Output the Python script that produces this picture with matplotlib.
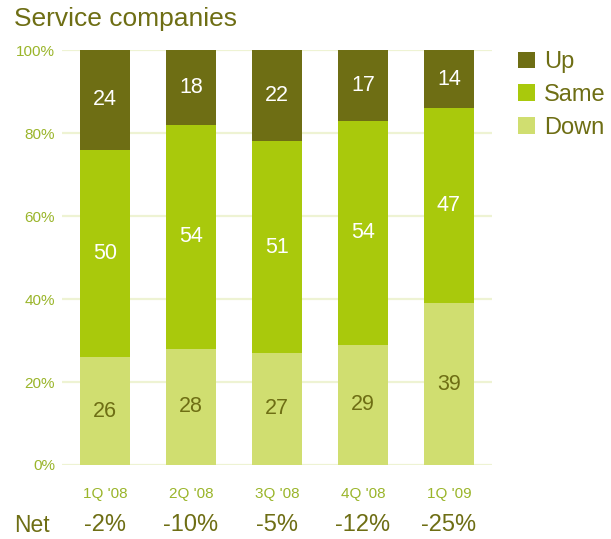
import matplotlib
matplotlib.use("Agg")
import matplotlib.pyplot as plt
import numpy as np

plt.rcParams['font.family'] = ['Liberation Sans', 'DejaVu Sans']

quarters = ["1Q '08", "2Q '08", "3Q '08", "4Q '08", "1Q '09"]
down = [26, 28, 27, 29, 39]
same = [50, 54, 51, 54, 47]
up = [24, 18, 22, 17, 14]
net = ["-2%", "-10%", "-5%", "-12%", "-25%"]

c_up = "#6e6e14"
c_same = "#a9c90c"
c_down = "#d0de70"
c_text = "#6e6e14"
c_tick = "#9ab52a"
c_grid = "#eef3d3"

fig = plt.figure(figsize=(6.11, 5.39), dpi=100)
ax = fig.add_axes([0.1015, 0.1373, 0.7035, 0.7699])

x = np.arange(len(quarters))
w = 0.58
down_a = np.array(down)
same_a = np.array(same)
up_a = np.array(up)

b1 = ax.bar(x, down_a, w, color=c_down, label="Down", zorder=2)
b2 = ax.bar(x, same_a, w, bottom=down_a, color=c_same, label="Same", zorder=2)
b3 = ax.bar(x, up_a, w, bottom=down_a + same_a, color=c_up, label="Up", zorder=2)

for i in range(len(x)):
    ax.text(x[i], down_a[i] / 2, str(down[i]), ha="center", va="center",
            color=c_text, fontsize=15.5)
    ax.text(x[i], down_a[i] + same_a[i] / 2, str(same[i]), ha="center",
            va="center", color="white", fontsize=15.5)
    ax.text(x[i], down_a[i] + same_a[i] + up_a[i] / 2, str(up[i]),
            ha="center", va="center", color="white", fontsize=15.5)

ax.set_xlim(-0.5, 4.5)
ax.set_ylim(0, 100)
ax.set_yticks([0, 20, 40, 60, 80, 100])
ax.set_yticklabels(["0%", "20%", "40%", "60%", "80%", "100%"])
ax.yaxis.grid(True, color=c_grid, linewidth=1.6, zorder=0)
ax.set_axisbelow(True)
ax.tick_params(axis="y", length=0, pad=5, labelcolor=c_tick, labelsize=11)
ax.set_xticks(x)
ax.set_xticklabels(quarters)
ax.tick_params(axis="x", length=0, pad=16, labelcolor=c_tick, labelsize=11)
for s in ax.spines.values():
    s.set_visible(False)

# Net balance row under the category labels
fig.text(14 / 611, 1 - 525 / 539, "Net", ha="left", va="center",
         color=c_text, fontsize=16.5)
for i in range(len(x)):
    xd = ax.transData.transform((x[i], 0))[0] / fig.bbox.width
    fig.text(xd, 1 - 525 / 539, net[i], ha="center", va="center",
             color=c_text, fontsize=17)

fig.text(14 / 611, 1 - 19 / 539, "Service companies", ha="left",
         va="center", color=c_text, fontsize=19)

leg = fig.legend(handles=[b3, b2, b1], labels=["Up", "Same", "Down"],
                 loc="upper left", bbox_to_anchor=(497 / 611, 1 - 30 / 539),
                 frameon=False, fontsize=17, handlelength=0.7,
                 handleheight=0.7, handletextpad=0.4, labelspacing=0.45,
                 labelcolor=c_text)

fig.savefig("out.png", dpi=100)
